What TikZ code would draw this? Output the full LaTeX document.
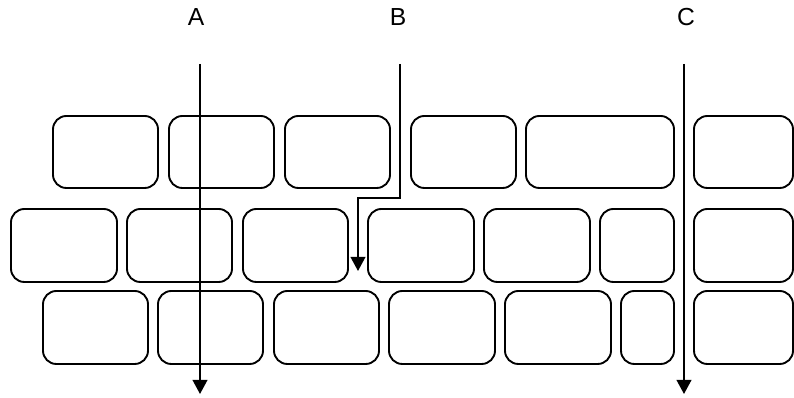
\documentclass[tikz,border=0pt]{standalone}
\usepackage{fontspec}
\setmainfont{Liberation Sans}
\usetikzlibrary{arrows.meta}
\begin{document}
\begin{tikzpicture}[x=0.75pt,y=-0.75pt,
  brick/.style={draw=black, line width=1.4pt, rounded corners=10pt, inner sep=0pt, outer sep=0pt},
  flow/.style={draw=black, line width=1.3pt, -{Triangle[length=10.5pt,width=11pt]}},
  lbl/.style={font=\fontsize{18.5}{21}\selectfont, inner sep=0pt}]
\useasboundingbox (0,0) rectangle (794,398);
\begin{scope}
\clip (0,0) rectangle (794,398);
% row 1
\foreach \i/\a/\b in {1/53/158,2/169/274,3/285/390,4/411/516,5/526/674,6/694/793}{
  \node[brick, minimum width={(\b-\a)*0.75pt}, minimum height={72*0.75pt}] (r1c\i) at ({(\a+\b)/2},152) {};
}
% row 2
\foreach \i/\a/\b in {1/11/117,2/127/232,3/243/348,4/368/474,5/484/590,6/600/674,7/694/793}{
  \node[brick, minimum width={(\b-\a)*0.75pt}, minimum height={73*0.75pt}] (r2c\i) at ({(\a+\b)/2},245.5) {};
}
% row 3
\foreach \i/\a/\b in {1/43/148,2/158/263,3/274/379,4/389/495,5/505/611,6/621/674,7/694/793}{
  \node[brick, minimum width={(\b-\a)*0.75pt}, minimum height={73*0.75pt}] (r3c\i) at ({(\a+\b)/2},327.5) {};
}
\end{scope}
% labels
\node[lbl] (A) at (196,17) {A};
\node[lbl] (B) at (398,17) {B};
\node[lbl] (C) at (686,17) {C};
% arrow coordinates
\coordinate (As) at (200,64);
\coordinate (Ae) at (200,394);
\coordinate (Bs) at (400,64);
\coordinate (Bm) at (358,198);
\coordinate (Be) at (358,271);
\coordinate (Cs) at (684,64);
\coordinate (Ce) at (684,394);
\draw[flow] (As) -- (Ae);
\draw[flow] (Bs) |- (Bm) -- (Be);
\draw[flow] (Cs) -- (Ce);
\end{tikzpicture}
\end{document}
